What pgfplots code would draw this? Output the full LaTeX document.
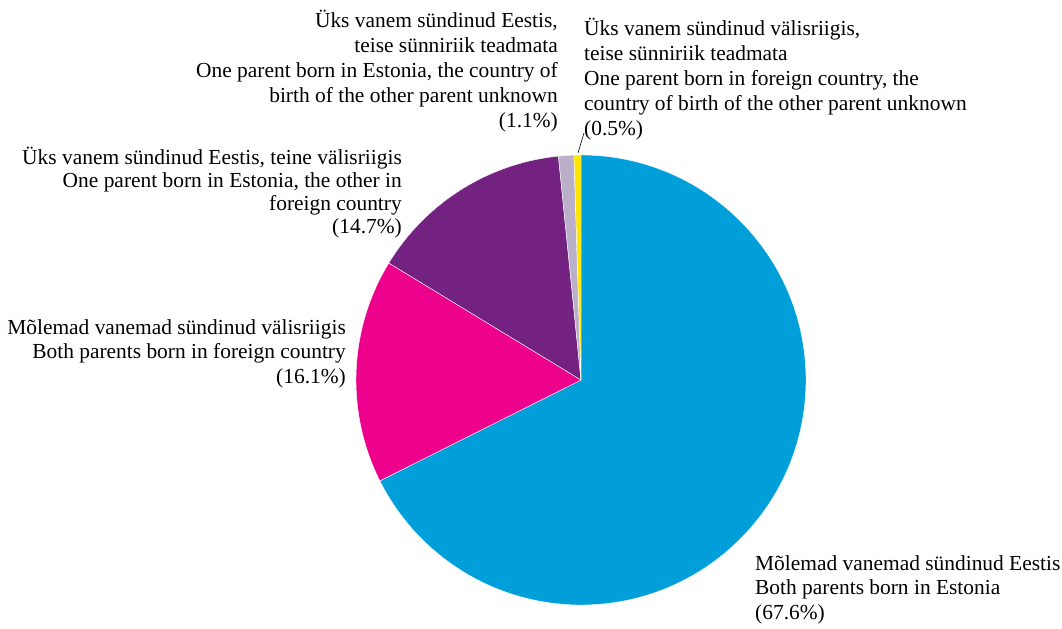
\documentclass[border=0pt]{standalone}
\usepackage{pgfplots}
\pgfplotsset{compat=1.18}
\usepackage{fontspec}
\setmainfont{Liberation Serif}
\definecolor{pblue}{RGB}{0,159,218}
\definecolor{ppink}{RGB}{236,0,140}
\definecolor{ppurple}{RGB}{115,34,130}
\definecolor{pgrey}{RGB}{187,176,201}
\definecolor{pyellow}{RGB}{255,230,0}
\begin{document}
\begin{tikzpicture}
\begin{axis}[
  width=1062bp, height=628bp, scale only axis,
  xmin=0, xmax=1062, ymin=0, ymax=628,
  hide axis, clip=false,
]
\global\def\cum{90}
\foreach \v/\c in {67.6/pblue,16.1/ppink,14.7/ppurple,1.1/pgrey,0.5/pyellow}{
  \pgfmathsetmacro\a{\cum}
  \pgfmathsetmacro\b{\cum-3.6*\v}
  \edef\slice{\noexpand\fill[\c,draw=white,line width=0.4pt] (axis cs:581,248) -- (axis cs:{581+225*cos(\a)},{248+225*sin(\a)}) arc[start angle=\a, end angle=\b, radius=225bp] -- cycle;}
  \slice
  \global\let\cum\b
}
\draw[black,line width=0.6pt] (axis cs:578,475) -- (axis cs:584,495);
\tikzset{lab/.style={inner sep=0pt, font=\fontsize{21.5}{25}\selectfont}}
\node[lab, align=right, anchor=north east] at (axis cs:558,618)
 {Üks vanem sündinud Eestis,\\teise sünniriik teadmata\\One parent born in Estonia, the country of\\birth of the other parent unknown\\(1.1\%)};
\node[lab, align=left, anchor=north west] at (axis cs:584,610)
 {Üks vanem sündinud välisriigis,\\teise sünniriik teadmata\\One parent born in foreign country, the\\country of birth of the other parent unknown\\(0.5\%)};
\node[lab, align=right, anchor=north east, font=\fontsize{21.5}{23.2}\selectfont] at (axis cs:402,481)
 {Üks vanem sündinud Eestis, teine välisriigis\\One parent born in Estonia, the other in\\foreign country\\(14.7\%)};
\node[lab, align=right, anchor=north east] at (axis cs:346,309)
 {Mõlemad vanemad sündinud välisriigis\\Both parents born in foreign country\\(16.1\%)};
\node[lab, align=left, anchor=north west, font=\fontsize{21.5}{24.7}\selectfont] at (axis cs:755,73)
 {Mõlemad vanemad sündinud Eestis\\Both parents born in Estonia\\(67.6\%)};
\end{axis}
\pgfresetboundingbox
\useasboundingbox (current axis.south west) rectangle (current axis.north east);
\end{tikzpicture}
\end{document}
